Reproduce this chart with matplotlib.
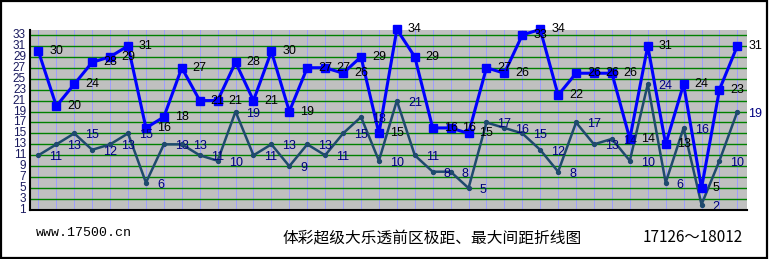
import matplotlib
matplotlib.use("Agg")
import matplotlib.pyplot as plt
from matplotlib.patches import Rectangle
from matplotlib.lines import Line2D
from matplotlib.transforms import blended_transform_factory

# ---- data ----
span_vals = [30, 20, 24, 28, 29, 31, 16, 18, 27, 21, 21, 28, 21, 30, 19, 27, 27, 26, 29, 15,
             34, 29, 16, 16, 15, 27, 26, 33, 34, 22, 26, 26, 26, 14, 31, 13, 24, 5, 23, 31]
gap_vals = [11, 13, 15, 12, 13, 15, 6, 13, 13, 11, 10, 19, 11, 13, 9, 13, 11, 15, 18, 10,
            21, 11, 8, 8, 5, 17, 16, 15, 12, 8, 17, 13, 14, 10, 24, 6, 16, 2, 10, 19]
y_ticks = list(range(1, 34, 2))
site_text = "www.17500.cn"
title_text = "体彩超级大乐透前区极距、最大间距折线图"
range_text = "17126～18012"

W, H = 769, 259
fig = plt.figure(figsize=(W / 100, H / 100), dpi=100)
fig.patch.set_facecolor("white")

ax = fig.add_axes([30 / W, (H - 210) / H, (746.5 - 30) / W, (210 - 30) / H])
ax.set_facecolor("#c0c0c0")
ax.patch.set_edgecolor("none")
x = list(range(len(span_vals)))

ax.set_xlim(-0.47, len(span_vals) - 0.49)
ax.set_ylim(1, 33.9)

for xi in x:
    ax.axvline(xi, color="#9d9dff", lw=0.7, zorder=1)
for yv in y_ticks:
    ax.axhline(yv, color="#008000", lw=1.0, zorder=1)

dark = "#1f4a6e"
ax.plot(x, gap_vals, color=dark, lw=1.8, marker="o", markersize=2.8, zorder=3)
ax.plot(x, span_vals, color="#0000ff", lw=2.2, marker="s", markersize=5.2, zorder=4,
        clip_on=False)

for xi, v in zip(x, span_vals):
    ax.annotate(str(v), (xi, v), xytext=(11, 0), textcoords="offset pixels",
                ha="left", va="center", fontsize=9, color="black",
                family="Liberation Sans", annotation_clip=False, zorder=5)
for xi, v in zip(x, gap_vals):
    ax.annotate(str(v), (xi, v), xytext=(11, -2), textcoords="offset pixels",
                ha="left", va="center", fontsize=9, color="#000080",
                family="Liberation Sans", annotation_clip=False, zorder=5)

# y labels drawn as text at the tick values
ax.set_xticks([])
ax.set_yticks([])
ytrans = blended_transform_factory(ax.transAxes, ax.transData)
for t in y_ticks:
    ax.annotate(str(t), (0, t), xycoords=ytrans, xytext=(-4, 0),
                textcoords="offset pixels", ha="right", va="center",
                fontsize=8.5, color="#1a1a5e", family="Liberation Sans",
                annotation_clip=False)

for s in ax.spines.values():
    s.set_visible(False)
ax.add_line(Line2D([0, 0], [0, 1], transform=ax.transAxes, color="black", lw=1.5,
                   clip_on=False, zorder=6))
ax.add_line(Line2D([0, 1], [0, 0], transform=ax.transAxes, color="black", lw=1.5,
                   clip_on=False, zorder=6))

fig.text(36 / W, 1 - 233 / H, site_text, ha="left", va="center",
         fontsize=9.5, family="Liberation Mono", color="black")
fig.text(432 / W, 1 - 238 / H, title_text, ha="center", va="center",
         fontsize=11.3, family=["Noto Sans CJK SC", "DejaVu Sans"], color="black")
fig.text(743 / W, 1 - 238 / H, range_text, ha="right", va="center",
         fontsize=11, family=["Noto Sans CJK SC", "DejaVu Sans"], color="black")

fig.patches.append(Rectangle((0.001, 0.002), 0.997, 0.996, transform=fig.transFigure,
                             fill=False, edgecolor="black", lw=1.6))

fig.savefig("out.png", dpi=100)
